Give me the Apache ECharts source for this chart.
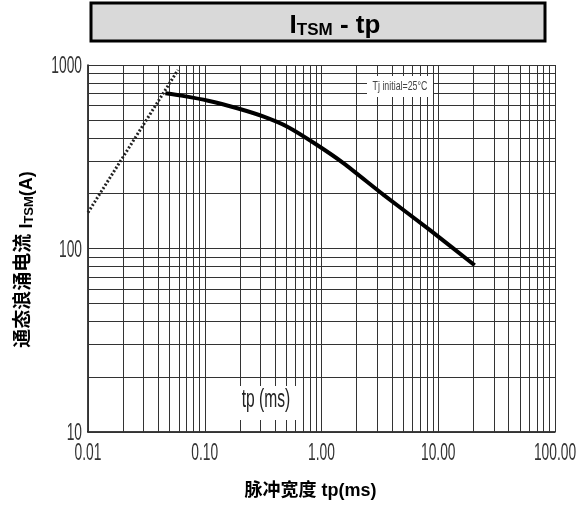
<!DOCTYPE html>
<html><head><meta charset="utf-8">
<script src="https://cdn.jsdelivr.net/npm/echarts@6/dist/echarts.min.js"></script>
<style>html,body{margin:0;padding:0;background:#fff}#c{width:585px;height:506px}</style>
</head><body><div id="c"></div>
<script>
// Surge current curve (tp in ms, ITSM in A)
const surgeTp = [0.046, 0.063, 0.107, 0.19, 0.32, 0.51, 0.89, 1.55, 3.4, 8.5, 20.5];
const surgeI  = [701, 681, 639, 581, 523, 461, 371, 291, 196, 126, 81];
// Dotted limit line
const limitTp = [0.01, 0.059];
const limitI  = [157, 940];
// Tick values and labels
const xTickValues = [0.01, 0.1, 1, 10, 100];
const xTickLabels = ['0.01', '0.10', '1.00', '10.00', '100.00'];
const yTickValues = [10, 100, 1000];
const yTickLabels = ['10', '100', '1000'];
// Log grid lines
const xDecades = [0.01, 0.1, 1, 10];
const yDecades = [10, 100];
const gridMultipliers = [1, 2, 3, 4, 5, 6, 7, 8, 9];

const SANS = "'Liberation Sans', 'Noto Sans CJK SC', sans-serif";

const vLines = [], hLines = [];
xDecades.forEach(d => gridMultipliers.forEach(m => vLines.push({xAxis: +(d * m).toPrecision(3)})));
vLines.push({xAxis: 100});
yDecades.forEach(d => gridMultipliers.forEach(m => hLines.push({yAxis: +(d * m).toPrecision(3)})));
hLines.push({yAxis: 1000});

const chart = echarts.init(document.getElementById('c'), null, {renderer: 'canvas'});
chart.setOption({
  animation: false,
  backgroundColor: '#fff',
  grid: {left: 88, right: 30, top: 65, bottom: 74, containLabel: false, outerBoundsMode: 'none'},
  xAxis: {
    type: 'log', logBase: 10, min: 0.01, max: 100,
    name: '脉冲宽度 tp(ms)', nameLocation: 'middle', nameGap: 50,
    nameTextStyle: {fontFamily: SANS, fontWeight: 'bold', fontSize: 18, color: '#000', padding: [0, 22, 0, 0]},
    axisLine: {show: true, lineStyle: {color: '#000', width: 1.5}},
    axisTick: {show: false},
    splitLine: {show: false},
    axisLabel: {show: false}
  },
  yAxis: {
    type: 'log', logBase: 10, min: 10, max: 1000,
    name: '通态浪涌电流 {i|I}{s|TSM}{i|(A)}', nameLocation: 'middle', nameGap: 52,
    nameTextStyle: {
      fontFamily: SANS, fontWeight: 'bold', fontSize: 19, color: '#000', padding: [0, 22, 0, 0],
      rich: {
        i: {fontFamily: SANS, fontWeight: 'bold', fontSize: 18, color: '#000', verticalAlign: 'bottom', lineHeight: 24},
        s: {fontFamily: SANS, fontWeight: 'bold', fontSize: 13, color: '#000', verticalAlign: 'bottom', lineHeight: 17}
      }
    },
    axisLine: {show: true, lineStyle: {color: '#000', width: 1.5}},
    axisTick: {show: false},
    splitLine: {show: false},
    axisLabel: {show: false}
  },
  series: [
    {
      type: 'line', name: 'grid', data: [], silent: true,
      markLine: {
        silent: true, symbol: ['none', 'none'], label: {show: false},
        lineStyle: {color: '#333', width: 1, type: 'solid'},
        data: vLines.concat(hLines)
      }
    },
    {
      type: 'line', name: 'limit', symbol: 'none', z: 5,
      data: limitTp.map((t, i) => [t, limitI[i]]),
      lineStyle: {color: '#222', width: 3, type: [2, 2]}
    },
    {
      type: 'line', name: 'ITSM', symbol: 'none', smooth: 0.2, z: 6,
      data: surgeTp.map((t, i) => [t, surgeI[i]]),
      lineStyle: {color: '#000', width: 4}
    }
  ]
});

// Condensed tick labels placed through the axes' own scales
const axisY = chart.convertToPixel({yAxisIndex: 0}, 10);
const axisX = chart.convertToPixel({xAxisIndex: 0}, 0.01);
const labels = [];
xTickValues.forEach((v, i) => {
  labels.push({type: 'text', z: 101, x: chart.convertToPixel({xAxisIndex: 0}, v), y: axisY + 22, scaleX: 0.6,
    style: {text: xTickLabels[i], fontFamily: SANS, fontSize: 23, fill: '#333', align: 'center', verticalAlign: 'middle'}});
});
yTickValues.forEach((v, i) => {
  labels.push({type: 'text', z: 101, x: axisX - 6, y: chart.convertToPixel({yAxisIndex: 0}, v) + 2, scaleX: 0.6,
    style: {text: yTickLabels[i], fontFamily: SANS, fontSize: 23, fill: '#333', align: 'right', verticalAlign: 'middle'}});
});

chart.setOption({
  graphic: [
    {type: 'rect', z: 100, shape: {x: 91, y: 3, width: 454, height: 38},
     style: {fill: '#d9d9d9', stroke: '#000', lineWidth: 3}},
    {type: 'text', z: 101, x: 335, y: 24,
     style: {
       text: '{a|I}{b|TSM}{a| - tp}', align: 'center', verticalAlign: 'middle',
       rich: {
         a: {fontFamily: SANS, fontWeight: 'bold', fontSize: 26, fill: '#000', lineHeight: 30, verticalAlign: 'bottom'},
         b: {fontFamily: SANS, fontWeight: 'bold', fontSize: 17, fill: '#000', lineHeight: 18, verticalAlign: 'bottom'}
       }
     }},
    {type: 'rect', z: 100, shape: {x: 367, y: 76, width: 66, height: 21}, style: {fill: '#fff'}},
    {type: 'text', z: 101, x: 400, y: 86, scaleX: 0.68,
     style: {text: 'Tj initial=25°C', fontFamily: SANS, fontSize: 13, fill: '#444',
             align: 'center', verticalAlign: 'middle'}},
    {type: 'rect', z: 100, shape: {x: 237, y: 386, width: 60, height: 34}, style: {fill: '#fff'}},
    {type: 'text', z: 101, x: 266, y: 400, scaleX: 0.6,
     style: {text: 'tp (ms)', fontFamily: SANS, fontSize: 26, fill: '#222',
             align: 'center', verticalAlign: 'middle'}}
  ].concat(labels)
});
</script>
</body></html>
